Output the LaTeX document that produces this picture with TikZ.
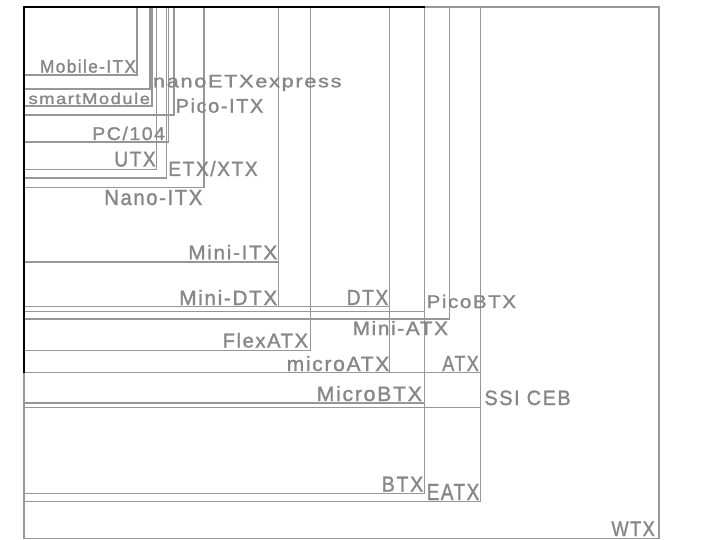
\documentclass[tikz,border=0pt]{standalone}
\usepackage{fontspec}
\setmainfont{Liberation Sans}
\newfontfamily\lblfont[LetterSpace=8,FakeBold=1.3]{Liberation Sans}
\definecolor{ln}{HTML}{979797}
\definecolor{tx}{HTML}{878787}
\newcommand\ffbox[2]{\draw[box] (24,7) rectangle (#1,#2);}
\newcommand\fflabel[6]{\node[lbl,anchor=base west] (#1) at (#2,#3) {\resizebox{#4pt}{#5pt}{#6}};}
\begin{document}
\begin{tikzpicture}[x=1pt,y=-1pt,
  box/.style={draw=ln,line width=1.1pt},
  edge/.style={draw=black,line width=1.1pt},
  lbl/.style={inner sep=0pt,outer sep=0pt,text=tx,font=\lblfont}]
\useasboundingbox[fill=white] (0,0) rectangle (720,540);
% form factor outlines (all anchored top-left)
\ffbox{137}{75}      % Mobile-ITX
\ffbox{150}{89}      % nanoETXexpress
\ffbox{152}{106}     % smartModule
\ffbox{174}{115}     % Pico-ITX
\ffbox{168.5}{142}   % PC/104
\ffbox{156.7}{169.3} % UTX
\ffbox{166.7}{178}   % ETX/XTX
\ffbox{204}{187.5}   % Nano-ITX
\ffbox{278.5}{262}   % Mini-ITX
\ffbox{278.5}{306.7} % Mini-DTX
\ffbox{389.7}{306.7} % DTX
\ffbox{424.5}{311.7} % PicoBTX
\ffbox{449.3}{319}   % Mini-ATX
\ffbox{310.7}{350.3} % FlexATX
\ffbox{389.7}{372.7} % microATX
\ffbox{480.8}{372.7} % ATX
\ffbox{424.5}{403}   % MicroBTX
\ffbox{480.8}{407.3} % SSI CEB
\ffbox{424.5}{493.7} % BTX
\ffbox{480.8}{501.3} % EATX
\ffbox{659}{538.5}   % WTX
% dark edges
\coordinate (o) at (24,7);
\coordinate (t) at (424.5,7);
\coordinate (l) at (24,372.7);
\draw[edge] (t) -- (o) -- (l);
% labels
\fflabel{mobileitx}{40}{72.7}{96}{13.2}{Mobile-ITX}
\fflabel{smartmodule}{28.5}{104}{121.5}{11.3}{smartModule}
\fflabel{nanoetx}{153}{87.3}{188.5}{12.3}{nanoETXexpress}
\fflabel{picoitx}{175.7}{112.7}{87.6}{14.3}{Pico-ITX}
\fflabel{pc104}{92.3}{140}{72.7}{13.3}{PC/104}
\fflabel{utx}{114.3}{166.5}{41.4}{14.7}{UTX}
\fflabel{etx}{168.3}{176}{89.4}{15}{ETX/XTX}
\fflabel{nanoitx}{104.3}{205}{98}{15}{Nano-ITX}
\fflabel{miniitx}{188.3}{259.3}{89}{14.3}{Mini-ITX}
\fflabel{minidtx}{179.3}{305}{98}{15}{Mini-DTX}
\fflabel{dtx}{346.7}{305}{41.6}{15}{DTX}
\fflabel{picobtx}{426.7}{308}{89.3}{13.3}{PicoBTX}
\fflabel{miniatx}{352.7}{335}{95.3}{14}{Mini-ATX}
\fflabel{flexatx}{222.7}{347.5}{85.3}{14.5}{FlexATX}
\fflabel{microatx}{286.7}{371}{102.6}{15}{microATX}
\fflabel{atx}{442.3}{371}{36.5}{15}{ATX}
\fflabel{microbtx}{316.7}{401}{105.3}{15}{MicroBTX}
\fflabel{ssiceb}{484.5}{405}{86.2}{14.5}{SSI CEB}
\fflabel{btx}{381.7}{491.7}{41.6}{15}{BTX}
\fflabel{eatx}{426.7}{500}{52.6}{16}{EATX}
\fflabel{wtx}{611.5}{536}{43.3}{14.5}{WTX}
\end{tikzpicture}
\end{document}
